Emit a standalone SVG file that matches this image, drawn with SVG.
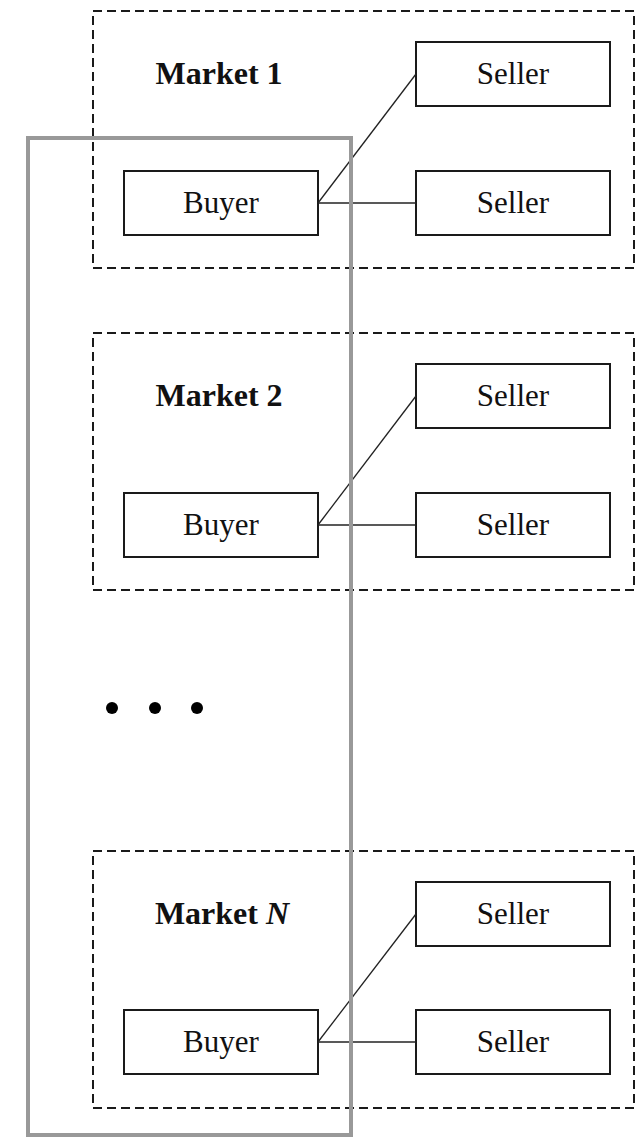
<svg xmlns="http://www.w3.org/2000/svg" width="637" height="1137" viewBox="0 0 637 1137">
  <style>
    .market { fill: none; stroke: #1a1a1a; stroke-width: 2; stroke-dasharray: 9 5; }
    .box { fill: #ffffff; stroke: #1a1a1a; stroke-width: 2; }
    .lbl { font-family: "Liberation Serif", "Times New Roman", serif; font-size: 31px; fill: #111; text-anchor: middle; }
    .title { font-family: "Liberation Serif", "Times New Roman", serif; font-size: 32px; font-weight: bold; fill: #111; text-anchor: middle; }
    .edge { stroke: #222; stroke-width: 1.3; fill: none; }
    .group { fill: none; stroke: #999999; stroke-width: 4; }
  </style>
  <rect width="637" height="1137" fill="#ffffff"/>

  <!-- Market 1 -->
  <g id="market1">
    <rect class="market" x="93" y="11" width="541" height="257"/>
    <text class="title" x="219" y="84">Market 1</text>
  </g>
  <g id="m1-seller1"><rect class="box" x="416" y="42" width="194" height="64"/><text class="lbl" x="513" y="84">Seller</text></g>
  <g id="m1-seller2"><rect class="box" x="416" y="171" width="194" height="64"/><text class="lbl" x="513" y="213">Seller</text></g>
  <g id="m1-buyer"><rect class="box" x="124" y="171" width="194" height="64"/><text class="lbl" x="221" y="213">Buyer</text></g>

  <!-- Market 2 -->
  <g id="market2">
    <rect class="market" x="93" y="333" width="541" height="257"/>
    <text class="title" x="219" y="406">Market 2</text>
  </g>
  <g id="m2-seller1"><rect class="box" x="416" y="364" width="194" height="64"/><text class="lbl" x="513" y="406">Seller</text></g>
  <g id="m2-seller2"><rect class="box" x="416" y="493" width="194" height="64"/><text class="lbl" x="513" y="535">Seller</text></g>
  <g id="m2-buyer"><rect class="box" x="124" y="493" width="194" height="64"/><text class="lbl" x="221" y="535">Buyer</text></g>

  <!-- Ellipsis between markets -->
  <g id="ellipsis" fill="#000">
    <circle cx="112" cy="708" r="6"/>
    <circle cx="155" cy="708" r="6"/>
    <circle cx="197" cy="708" r="6"/>
  </g>

  <!-- Market N -->
  <g id="marketN">
    <rect class="market" x="93" y="851" width="541" height="257"/>
    <text class="title" x="222" y="924">Market <tspan font-style="italic">N</tspan></text>
  </g>
  <g id="mN-seller1"><rect class="box" x="416" y="882" width="194" height="64"/><text class="lbl" x="513" y="924">Seller</text></g>
  <g id="mN-seller2"><rect class="box" x="416" y="1010" width="194" height="64"/><text class="lbl" x="513" y="1052">Seller</text></g>
  <g id="mN-buyer"><rect class="box" x="124" y="1010" width="194" height="64"/><text class="lbl" x="221" y="1052">Buyer</text></g>

  <!-- Buyer-seller links -->
  <g id="connectors">
    <line class="edge" x1="318" y1="203" x2="416" y2="74"/>
    <line class="edge" x1="318" y1="203" x2="416" y2="203"/>
    <line class="edge" x1="318" y1="525" x2="416" y2="396"/>
    <line class="edge" x1="318" y1="525" x2="416" y2="525"/>
    <line class="edge" x1="318" y1="1042" x2="416" y2="914"/>
    <line class="edge" x1="318" y1="1042" x2="416" y2="1042"/>
  </g>

  <!-- Grey frame spanning all buyers -->
  <g id="buyers-frame">
    <rect class="group" x="28" y="138" width="323" height="997"/>
  </g>
</svg>
